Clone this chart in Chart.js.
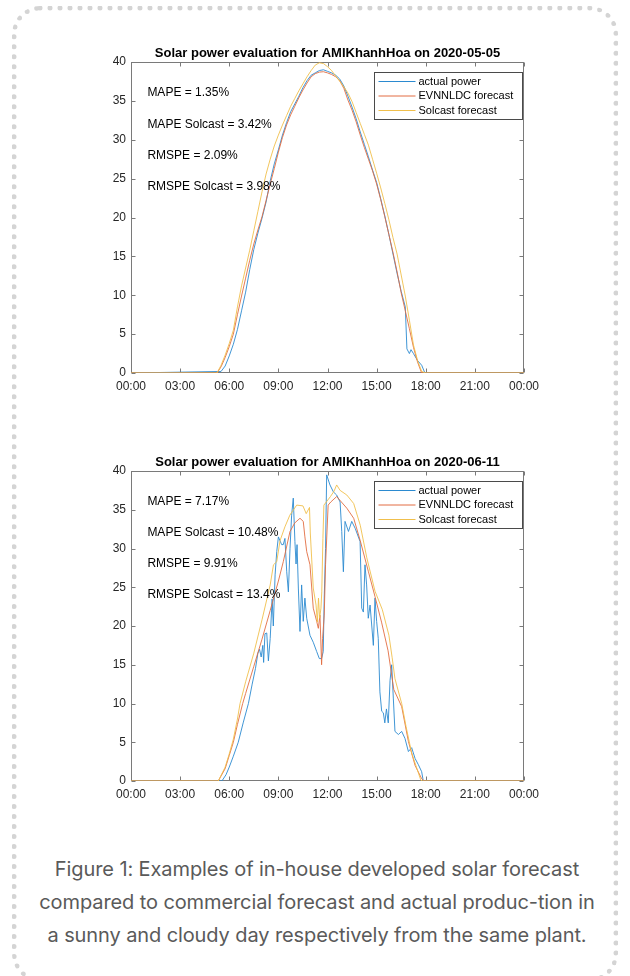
<!DOCTYPE html>
<html>
<head>
<meta charset="utf-8">
<script src="https://cdn.jsdelivr.net/npm/chart.js@4.4.0/dist/chart.umd.min.js"></script>
<style>
  html, body { margin: 0; padding: 0; background: #fff; }
  body { width: 630px; height: 976px; position: relative; overflow: hidden; }
  .frame {
    position: absolute; left: 12px; top: 6px; width: 606px; height: 976px;
    border: 5px dotted #d4d4d4; border-radius: 28px; box-sizing: border-box;
  }
  canvas { position: absolute; left: 0; }
  #sunny { top: 30px; }
  #cloudy { top: 440px; }
  .caption {
    position: absolute; left: 16px; width: 602px; top: 853px;
    font-family: Inter, "Noto Sans", sans-serif; font-size: 20px; line-height: 33px;
    color: #5a5a5a; text-align: center; letter-spacing: -0.1px;
  }
</style>
</head>
<body>
<div class="frame"></div>
<canvas id="sunny" width="630" height="380"></canvas>
<canvas id="cloudy" width="630" height="380"></canvas>
<div class="caption">Figure 1: Examples of in-house developed solar forecast<br>compared to commercial forecast and actual produc-tion in<br>a sunny and cloudy day respectively from the same plant.</div>
<script>
// hours of the day on the x axis, power on the y axis
const tickLabels = ['00:00', '03:00', '06:00', '09:00', '12:00', '15:00', '18:00', '21:00', '00:00'];
const seriesNames = ['actual power', 'EVNNLDC forecast', 'Solcast forecast'];
const seriesColors = ['#2b8ad0', '#e26d42', '#f0bf4c'];
const noteLevels = [36, 32, 28, 24];

// 2020-05-05 (sunny)
const sunnyTitle = 'Solar power evaluation for AMIKhanhHoa on 2020-05-05';
const sunnyNotes = ['MAPE = 1.35%', 'MAPE Solcast = 3.42%', 'RMSPE = 2.09%', 'RMSPE Solcast = 3.98%'];
const sunnyTimes = [0, 5.25, 5.5, 5.75, 6, 6.25, 6.5, 6.75, 7, 7.25, 7.5, 7.75, 8, 8.25, 8.5, 8.75, 9, 9.25, 9.5, 9.75,
  10, 10.25, 10.5, 10.75, 11, 11.25, 11.5, 11.75, 12, 12.25, 12.5, 12.75, 13, 13.25, 13.5, 13.75, 14, 14.25, 14.5, 14.75,
  15, 15.25, 15.5, 15.75, 16, 16.25, 16.5, 16.75, 17, 17.25, 17.5, 17.75, 18, 24];
const sunnyEvn = [0, 0, 0.8, 2.0, 3.4, 5.0, 7.5, 9.9, 12.2, 14.5, 16.6, 18.4, 20.1, 22.2, 24.3, 26.3, 28.4, 30.3, 31.9, 33.2,
  34.3, 35.4, 36.4, 37.3, 38.1, 38.5, 38.7, 38.75, 38.6, 38.4, 38.1, 37.6, 36.6, 35.1, 33.8, 32.3, 30.6, 29.0, 27.5, 26.0,
  24.3, 22.3, 20.1, 17.8, 15.5, 13.0, 10.3, 8.0, 5.7, 3.3, 1.4, 0, 0, 0];
const sunnySolcast = [0, 0, 1.0, 2.3, 3.8, 5.5, 8.5, 11.2, 13.5, 15.8, 18.3, 20.8, 23.3, 25.6, 27.5, 29.2, 30.6, 31.9, 33.1, 34.3,
  35.3, 36.3, 37.2, 38.1, 38.9, 39.6, 39.9, 39.8, 39.4, 38.9, 38.2, 37.5, 36.8, 36.0, 34.9, 33.5, 32.1, 30.7, 29.3, 27.5,
  25.7, 23.8, 21.8, 19.7, 17.4, 15.3, 12.6, 9.9, 6.8, 3.6, 1.6, 0.2, 0, 0];
const sunnyActualTimes = [0, 5.5, 5.75, 6, 6.25, 6.5, 6.75, 7, 7.25, 7.5, 7.75, 8, 8.25, 8.5, 8.75, 9, 9.25, 9.5, 9.75,
  10, 10.25, 10.5, 10.75, 11, 11.25, 11.5, 11.75, 12, 12.25, 12.5, 12.75, 13, 13.25, 13.5, 13.75, 14, 14.25, 14.5, 14.75,
  15, 15.25, 15.5, 15.75, 16, 16.25, 16.5, 16.75, 16.85, 17, 17.1, 17.25, 17.5, 17.75, 17.95, 24];
const sunnyActual = [0, 0.2, 0.9, 2.2, 3.7, 5.6, 8.0, 10.4, 13.3, 15.9, 18.0, 19.9, 22.0, 24.7, 26.9, 28.7, 30.6, 32.2, 33.6,
  34.6, 35.6, 36.7, 37.6, 38.3, 38.6, 38.9, 39.0, 38.8, 38.6, 38.3, 37.8, 36.9, 35.6, 34.2, 32.7, 31.0, 29.4, 27.8, 26.1,
  24.5, 22.4, 20.2, 17.8, 15.3, 12.8, 10.5, 8.5, 3.1, 2.5, 3.0, 2.5, 1.6, 1.0, 0, 0];

// 2020-06-11 (cloudy)
const cloudyTitle = 'Solar power evaluation for AMIKhanhHoa on 2020-06-11';
const cloudyNotes = ['MAPE = 7.17%', 'MAPE Solcast = 10.48%', 'RMSPE = 9.91%', 'RMSPE Solcast = 13.4%'];
const cloudyActualTimes = [0, 5.55, 5.8, 6.0, 6.25, 6.55, 6.85, 7.17, 7.4, 7.6, 7.75, 7.85, 7.95, 8.05, 8.1, 8.18, 8.29, 8.39,
  8.5, 8.62, 8.69, 8.8, 8.9, 9.0, 9.2, 9.3, 9.4, 9.51, 9.61, 9.71, 9.81, 9.91, 10.01, 10.08, 10.14, 10.22, 10.32, 10.42,
  10.52, 10.62, 10.73, 10.93, 11.13, 11.34, 11.5, 11.64, 11.74, 11.8, 11.88, 11.95, 12.15, 12.36, 12.56, 12.77, 12.87,
  12.97, 13.07, 13.28, 13.48, 13.69, 13.99, 14.09, 14.19, 14.29, 14.39, 14.49, 14.6, 14.8, 14.9, 15.0, 15.1, 15.2, 15.31,
  15.41, 15.5, 15.6, 15.71, 15.82, 15.92, 16.02, 16.12, 16.33, 16.53, 16.73, 16.94, 17.14, 17.35, 17.55, 17.75, 17.85, 24];
const cloudyActual = [0, 0, 0.8, 1.8, 3.2, 5.0, 7.5, 10.0, 12.5, 14.5, 16.5, 17.0, 16.0, 17.5, 15.3, 19.0, 19.1, 15.5,
  18.4, 23.5, 20.0, 26.6, 29.6, 31.5, 30.5, 30.5, 31.3, 27.0, 24.4, 30.0, 34.3, 36.5, 30.9, 28.0, 30.5, 24.9, 19.3, 25.3,
  20.6, 23.6, 21.0, 18.8, 17.9, 16.7, 15.8, 15.8, 16.7, 23.6, 30.0, 39.5, 38.2, 37.3, 36.9, 36.0, 32.2,
  27.0, 33.5, 32.2, 33.5, 32.6, 30.9, 22.3, 21.8, 27.9, 25.3, 21.0, 22.7, 17.5, 23.6, 20.6, 18.4, 11.5, 9.0,
  8.8, 7.5, 9.3, 7.5, 13.0, 15.0, 10.7, 6.4, 6.0, 6.4, 5.5, 3.8, 4.3, 2.9, 2.1, 1.2, 0, 0];
const cloudyEvnTimes = [0, 5.33, 5.75, 6, 6.25, 6.5, 6.82, 7.0, 7.5, 8.0, 8.5, 9.0, 9.3, 9.71, 10.0, 10.32, 10.52, 10.62,
  10.73, 10.93, 11.13, 11.34, 11.44, 11.54, 11.64, 11.7, 11.8, 11.88, 12.04, 12.2, 12.56, 13.18, 13.6, 14.0, 14.5, 14.9,
  15.3, 15.7, 16.05, 16.53, 16.94, 17.35, 17.75, 17.9, 24];
const cloudyEvn = [0, 0, 1.6, 3.3, 5.0, 7.3, 10.0, 11.3, 14.8, 18.3, 22.0, 25.8, 28.3, 32.2, 33.3, 33.9, 33.5, 31.5,
  29.6, 27.9, 22.3, 20.6, 19.7, 21.4, 15.0, 18.4, 21.4, 27.9, 35.6, 36.0, 36.7, 35.2, 33.9, 31.0, 27.0, 23.8,
  20.5, 16.8, 11.8, 9.6, 5.1, 2.0, 0.3, 0, 0];
const cloudySolcastTimes = [0, 5.33, 5.75, 6, 6.25, 6.5, 6.66, 7.0, 7.5, 8.0, 8.5, 8.7, 8.9, 9.1, 9.4, 9.7, 10.12, 10.5,
  10.7, 10.9, 10.95, 11.13, 11.23, 11.3, 11.38, 11.45, 11.52, 11.6, 11.65, 11.72, 11.78, 12.18, 12.4, 12.56, 12.77,
  13.18, 13.6, 14.0, 14.4, 14.9, 15.35, 15.75, 15.95, 16.12, 16.53, 16.8, 17.14, 17.43, 17.7, 17.8, 24];
const cloudySolcast = [0, 0, 1.8, 3.5, 5.4, 8.0, 10.0, 12.8, 16.5, 20.8, 25.3, 27.9, 28.3, 31.0, 32.8, 34.3, 35.6, 35.5,
  34.5, 35.3, 32.0, 24.9, 23.6, 22.7, 20.5, 23.6, 21.0, 22.3, 24.4, 31.3, 35.6, 36.7, 37.4, 38.2, 37.5,
  36.9, 35.8, 33.0, 28.8, 24.5, 22.1, 18.8, 15.9, 13.2, 10.0, 7.0, 3.6, 1.8, 0.1, 0, 0];

const FONT = '"Liberation Sans", Arial, sans-serif';
const zip = (xs, ys) => xs.map((x, i) => ({ x: x, y: ys[i] }));

// MATLAB-like box with inward ticks, title, text notes and legend
const matlabAxes = {
  id: 'matlabAxes',
  beforeDatasetsDraw(chart, args, opts) {
    const { ctx, chartArea: a, scales: { x, y } } = chart;
    const L = Math.round(a.left) + 0.5, R = Math.round(a.right) - 0.5;
    const T = Math.round(a.top) + 0.5, B = Math.round(a.bottom) - 0.5;
    ctx.save();
    ctx.strokeStyle = '#7a7a7a';
    ctx.lineWidth = 1;
    ctx.strokeRect(L, T, R - L, B - T);
    ctx.beginPath();
    x.ticks.forEach(t => {
      const px = Math.round(x.getPixelForValue(t.value)) + 0.5;
      ctx.moveTo(px, B); ctx.lineTo(px, B - 4);
      ctx.moveTo(px, T); ctx.lineTo(px, T + 4);
    });
    y.ticks.forEach(t => {
      const py = Math.round(y.getPixelForValue(t.value)) + 0.5;
      ctx.moveTo(L, py); ctx.lineTo(L + 4, py);
      ctx.moveTo(R, py); ctx.lineTo(R - 4, py);
    });
    ctx.stroke();
    ctx.restore();
  },
  afterDraw(chart, args, opts) {
    const { ctx, chartArea: a, scales: { x, y } } = chart;
    ctx.save();
    // title
    ctx.fillStyle = '#000';
    ctx.font = 'bold 13px ' + FONT;
    ctx.textAlign = 'center';
    ctx.textBaseline = 'middle';
    ctx.fillText(opts.title, (a.left + a.right) / 2, a.top - 9);
    // notes
    ctx.font = '12px ' + FONT;
    ctx.textAlign = 'left';
    opts.notes.forEach((n, i) => {
      ctx.fillText(n, x.getPixelForValue(1), y.getPixelForValue(noteLevels[i]));
    });
    // legend
    const bx = Math.round(a.left) + 243.5, by = Math.round(a.top) + 10.5, bw = 148, bh = 47;
    ctx.fillStyle = '#fff';
    ctx.fillRect(bx, by, bw, bh);
    ctx.strokeStyle = '#4a4a4a';
    ctx.lineWidth = 1;
    ctx.strokeRect(bx, by, bw, bh);
    ctx.font = '11px ' + FONT;
    seriesNames.forEach((name, i) => {
      const ry = by + 9 + i * 14.5;
      ctx.strokeStyle = seriesColors[i];
      ctx.beginPath();
      ctx.moveTo(bx + 4, ry); ctx.lineTo(bx + 41, ry);
      ctx.stroke();
      ctx.fillStyle = '#000';
      ctx.fillText(name, bx + 44, ry);
    });
    ctx.restore();
  }
};

function drawPanel(id, title, notes, series, topPad, axisHeight) {
  new Chart(document.getElementById(id), {
    type: 'line',
    data: {
      datasets: series.map((pts, i) => ({
        label: seriesNames[i],
        data: pts,
        borderColor: seriesColors[i],
        borderWidth: 0.9,
        pointRadius: 0,
        tension: 0,
        order: 3 - i
      }))
    },
    options: {
      responsive: false,
      animation: false,
      events: [],
      layout: { padding: { left: 0, right: 106, top: topPad, bottom: 0 } },
      scales: {
        x: {
          type: 'linear', min: 0, max: 24,
          afterFit: s => { s.height = axisHeight; },
          afterBuildTicks: s => { s.ticks = tickLabels.map((_, i) => ({ value: i * 3 })); },
          ticks: {
            padding: 6, color: '#262626', maxRotation: 0, autoSkip: false,
            font: { family: FONT, size: 12 },
            callback: (v, i) => tickLabels[i]
          },
          grid: { display: false, drawTicks: false },
          border: { display: false }
        },
        y: {
          min: 0, max: 40,
          afterFit: s => { s.width = 131; },
          ticks: { stepSize: 5, padding: 5, color: '#262626', font: { family: FONT, size: 12 } },
          grid: { display: false, drawTicks: false },
          border: { display: false }
        }
      },
      plugins: {
        legend: { display: false },
        tooltip: { enabled: false },
        matlabAxes: { title: title, notes: notes }
      }
    },
    plugins: [matlabAxes]
  });
}

drawPanel('sunny', sunnyTitle, sunnyNotes, [
  zip(sunnyActualTimes, sunnyActual),
  zip(sunnyTimes, sunnyEvn),
  zip(sunnyTimes, sunnySolcast)
], 32, 37);

drawPanel('cloudy', cloudyTitle, cloudyNotes, [
  zip(cloudyActualTimes, cloudyActual),
  zip(cloudyEvnTimes, cloudyEvn),
  zip(cloudySolcastTimes, cloudySolcast)
], 31, 39);
</script>
</body>
</html>
